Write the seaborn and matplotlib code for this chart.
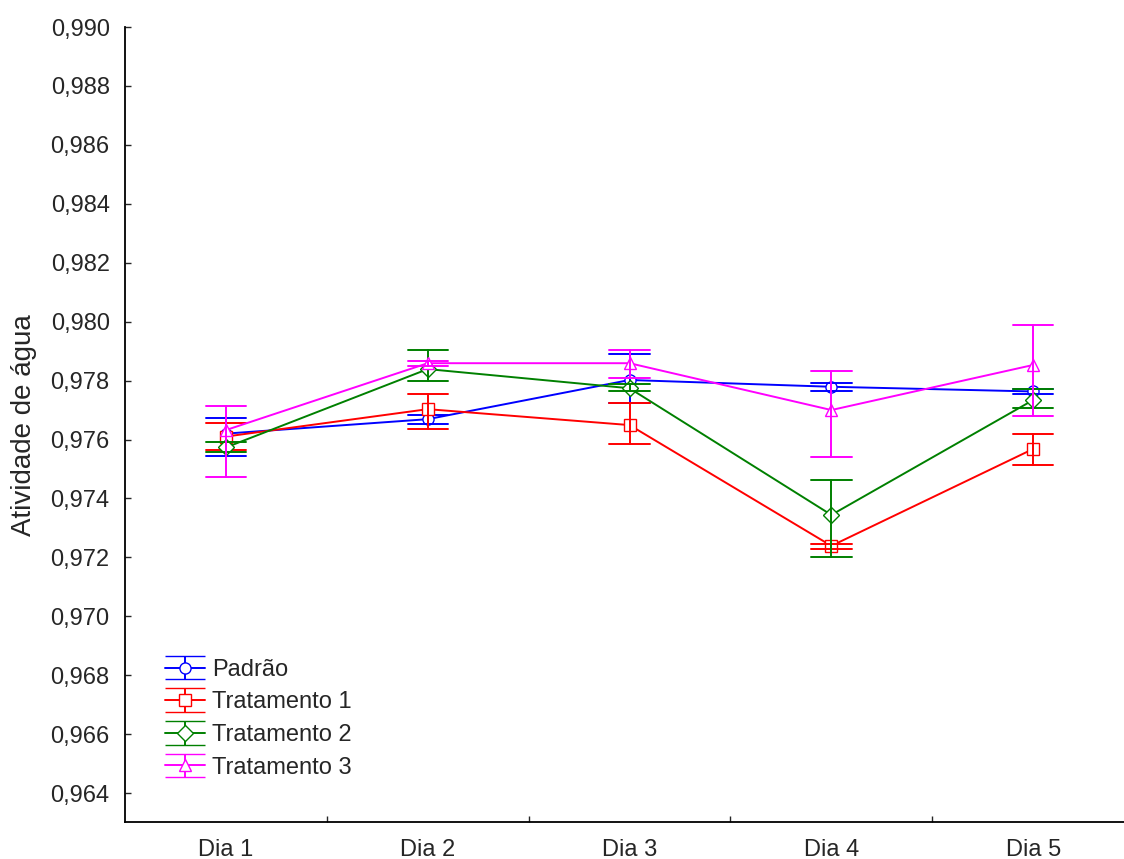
import numpy as np
import pandas as pd
import seaborn as sns
import matplotlib.pyplot as plt
from matplotlib.ticker import FuncFormatter, FixedLocator

# Dias de análise e grupos
dias = ["Dia 1", "Dia 2", "Dia 3", "Dia 4", "Dia 5"]
grupos = ["Padrão", "Tratamento 1", "Tratamento 2", "Tratamento 3"]
cores = ["#0000ff", "#ff0000", "#008000", "#ff00ff"]
marcadores = ["o", "s", "D", "^"]

# Médias e limites (inferior / superior) da atividade de água
padrao_media = [0.97620, 0.97669, 0.97802, 0.97779, 0.97763]
padrao_inf = [0.97545, 0.97654, 0.97725, 0.97765, 0.97754]
padrao_sup = [0.97674, 0.97683, 0.97889, 0.97791, 0.97772]

trat1_media = [0.97610, 0.97703, 0.97649, 0.97239, 0.97568]
trat1_inf = [0.97564, 0.97636, 0.97584, 0.97229, 0.97513]
trat1_sup = [0.97655, 0.97754, 0.97725, 0.97244, 0.97619]

trat2_media = [0.97573, 0.97839, 0.97774, 0.97344, 0.97734]
trat2_inf = [0.97557, 0.97800, 0.97765, 0.97202, 0.97708]
trat2_sup = [0.97591, 0.97904, 0.97787, 0.97464, 0.97772]

trat3_media = [0.97632, 0.97859, 0.97859, 0.97700, 0.97853]
trat3_inf = [0.97474, 0.97849, 0.97810, 0.97540, 0.97680]
trat3_sup = [0.97715, 0.97867, 0.97904, 0.97834, 0.97989]

series = {
    "Padrão": (padrao_media, padrao_inf, padrao_sup),
    "Tratamento 1": (trat1_media, trat1_inf, trat1_sup),
    "Tratamento 2": (trat2_media, trat2_inf, trat2_sup),
    "Tratamento 3": (trat3_media, trat3_inf, trat3_sup),
}

# Tabela longa: inferior, média e superior -> mediana = média, intervalo 0-100% = limites
linhas = []
for g, (med, inf, sup) in series.items():
    for i, d in enumerate(dias):
        for v in (inf[i], med[i], sup[i]):
            linhas.append({"Dia": d, "Grupo": g, "valor": v})
df = pd.DataFrame(linhas)

sns.set_style("white")
plt.rcParams['font.family'] = ['Liberation Sans', 'DejaVu Sans']

fig = plt.figure(figsize=(11.24, 8.59), dpi=100)
ax = fig.add_axes([0.1112, 0.0425, 0.8888, 0.926])

sns.pointplot(data=df, x="Dia", y="valor", hue="Grupo", order=dias, hue_order=grupos,
              palette=cores, markers=marcadores, linestyles="-",
              estimator="median", errorbar=("pi", 100), capsize=0.2,
              err_kws={"linewidth": 1.4}, linewidth=1.4, markersize=8,
              markeredgewidth=1.0, markerfacecolor="white",
              dodge=False, legend=False, ax=ax)

ax.set_xlim(-0.5, 4.45)
ax.set_ylim(0.963, 0.990)
ax.set_yticks(np.arange(0.964, 0.9901, 0.002))
ax.yaxis.set_major_formatter(FuncFormatter(lambda v, p: f"{v:.3f}".replace(".", ",")))
ax.xaxis.set_minor_locator(FixedLocator([0.5, 1.5, 2.5, 3.5]))
ax.tick_params(axis="x", which="major", length=0, pad=12, labelsize=17)
ax.tick_params(axis="x", which="minor", direction="in", length=4, width=1, bottom=True)
ax.tick_params(axis="y", direction="in", length=4, width=1, left=True, pad=11, labelsize=17)
ax.set_xlabel("")
ax.set_ylabel("Atividade de água", fontsize=20, labelpad=10)

for s in ["top", "right"]:
    ax.spines[s].set_visible(False)
for s in ["left", "bottom"]:
    ax.spines[s].set_color("black")
    ax.spines[s].set_linewidth(1.3)

# Legenda com barras de erro
handles = []
for g, c, m in zip(grupos, cores, marcadores):
    h = ax.errorbar([np.nan], [np.nan], yerr=[0.001], color=c, marker=m, markersize=8,
                    markerfacecolor="white", markeredgewidth=1.0, linewidth=1.4,
                    capsize=14.4, capthick=1.4, elinewidth=1.4)
    handles.append(h)
ax.legend(handles, grupos, loc="lower left", bbox_to_anchor=(0.04, 0.055), frameon=False,
          fontsize=17, handlelength=1.69, handletextpad=0.3, labelspacing=0.45,
          borderpad=0, borderaxespad=0)

fig.savefig("out.png", dpi=100)
